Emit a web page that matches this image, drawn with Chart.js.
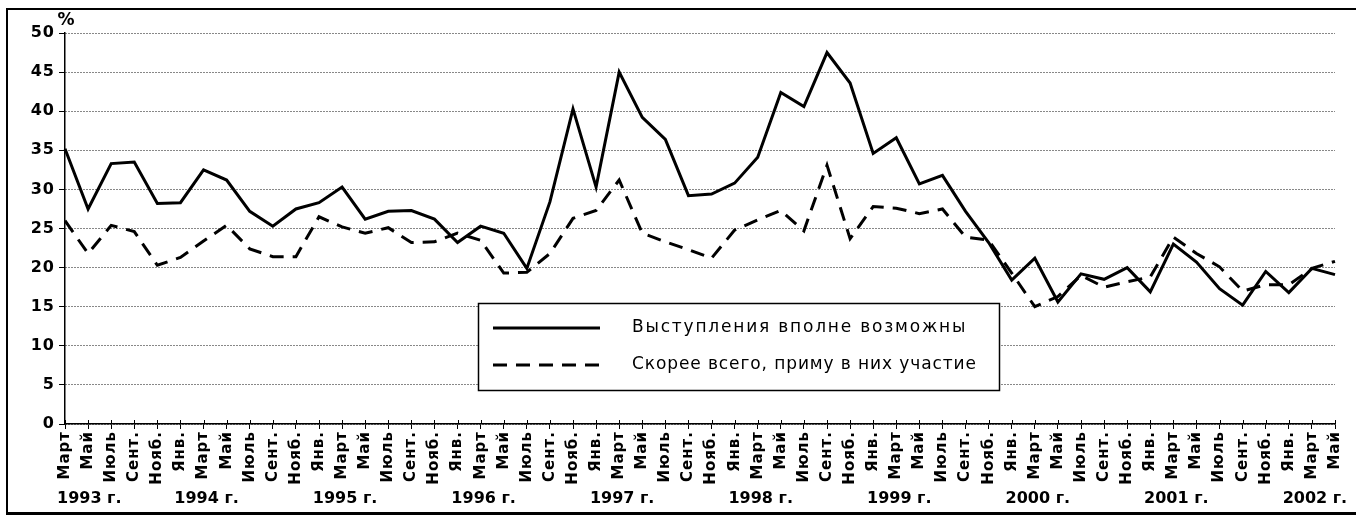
<!DOCTYPE html>
<html lang="ru">
<head>
<meta charset="utf-8">
<title>Выступления протеста</title>
<script src="https://cdn.jsdelivr.net/npm/chart.js@4.4.1/dist/chart.umd.min.js"></script>
<style>
  html, body { margin: 0; padding: 0; background: #fff; overflow: hidden; }
  #wrap { position: relative; width: 1356px; height: 516px; }
  #frame { position: absolute; left: 6px; top: 8px; width: 1360px; height: 502px;
           border-left: 2px solid #000; border-top: 2px solid #000; border-bottom: 3px solid #000; }
  canvas { position: absolute; left: 0; top: 0; }
</style>
</head>
<body>
<div id="wrap">
  <div id="frame"></div>
  <canvas id="chart" width="1356" height="516"></canvas>
</div>
<script>
// Month tick labels (every second month, March 1993 - May 2002)
const months = [
  "Март", "Май", "Июль", "Сент.", "Нояб.",
  "Янв.", "Март", "Май", "Июль", "Сент.", "Нояб.",
  "Янв.", "Март", "Май", "Июль", "Сент.", "Нояб.",
  "Янв.", "Март", "Май", "Июль", "Сент.", "Нояб.",
  "Янв.", "Март", "Май", "Июль", "Сент.", "Нояб.",
  "Янв.", "Март", "Май", "Июль", "Сент.", "Нояб.",
  "Янв.", "Март", "Май", "Июль", "Сент.", "Нояб.",
  "Янв.", "Март", "Май", "Июль", "Сент.", "Нояб.",
  "Янв.", "Март", "Май", "Июль", "Сент.", "Нояб.",
  "Янв.", "Март", "Май"
];
const years = ["1993 г.", "1994 г.", "1995 г.", "1996 г.", "1997 г.", "1998 г.", "1999 г.", "2000 г.", "2001 г.", "2002 г."];

// Series (%)
const possible = [
  35.2, 27.5, 33.3, 33.5, 28.2, 28.3, 32.5, 31.2, 27.2, 25.3,
  27.5, 28.3, 30.3, 26.2, 27.2, 27.3, 26.2, 23.2, 25.3, 24.4,
  19.9, 28.4, 40.3, 30.3, 45.0, 39.2, 36.4, 29.2, 29.4, 30.8,
  34.1, 42.4, 40.6, 47.5, 43.6, 34.6, 36.6, 30.7, 31.8, 27.2,
  23.2, 18.4, 21.2, 15.6, 19.2, 18.5, 20.0, 16.9, 23.0, 20.7,
  17.3, 15.2, 19.5, 16.8, 19.9, 19.1
];
const willTakePart = [
  26.0, 21.8, 25.4, 24.6, 20.3, 21.3, 23.4, 25.4, 22.4, 21.4,
  21.4, 26.5, 25.2, 24.4, 25.1, 23.2, 23.3, 24.4, 23.5, 19.3,
  19.4, 21.8, 26.3, 27.3, 31.2, 24.4, 23.3, 22.3, 21.2, 24.8,
  26.1, 27.3, 24.7, 33.1, 23.7, 27.8, 27.6, 26.9, 27.5, 23.9,
  23.5, 19.3, 15.0, 16.3, 19.0, 17.5, 18.2, 18.8, 23.9, 21.8,
  20.1, 17.0, 17.8, 17.8, 19.9, 20.8
];
const seriesNames = ["Выступления вполне возможны", "Скорее всего, приму в них участие"];

const FONT = "DejaVu Sans";

// Year labels, legend box, "%" and upper tick marks
const extras = {
  id: "extras",
  beforeDraw(chart) {
    // the original lettering is a bit wider than DejaVu
    chart.ctx.letterSpacing = "1px";
  },
  afterDraw(chart) {
    const { ctx, scales: { x, y } } = chart;
    ctx.save();
    ctx.letterSpacing = "0px";

    // small tick marks above the x axis
    ctx.strokeStyle = "#000";
    ctx.lineWidth = 1;
    months.forEach((m, i) => {
      const px = Math.round(x.getPixelForValue(i)) + 0.5;
      ctx.beginPath();
      ctx.moveTo(px, y.bottom - 4);
      ctx.lineTo(px, y.bottom);
      ctx.stroke();
    });

    // year labels under each March
    ctx.fillStyle = "#000";
    ctx.font = "bold 16px '" + FONT + "'";
    ctx.textAlign = "center";
    ctx.textBaseline = "middle";
    let k = 0;
    months.forEach((m, i) => {
      if (m === "Март" && k < years.length) {
        const w = ctx.measureText(years[k]).width;
        const cx = Math.max(x.getPixelForValue(i) + 3, x.left - 8 + w / 2);
        ctx.fillText(years[k], cx, 499);
        k++;
      }
    });

    // unit
    ctx.font = "bold 17px '" + FONT + "'";
    ctx.fillText("%", x.left + 1, 21);

    // legend
    const bx = 478, by = 303, bw = 521, bh = 87;
    ctx.fillStyle = "#fff";
    ctx.fillRect(bx, by, bw, bh);
    ctx.strokeStyle = "#000";
    ctx.lineWidth = 1.5;
    ctx.strokeRect(bx + 0.5, by + 0.5, bw, bh);

    chart.data.datasets.forEach((ds, i) => {
      const ly = by + 25 + i * 37;
      ctx.save();
      ctx.strokeStyle = ds.borderColor;
      ctx.lineWidth = ds.borderWidth;
      ctx.setLineDash(ds.borderDash || []);
      ctx.beginPath();
      ctx.moveTo(493, ly);
      ctx.lineTo(600, ly);
      ctx.stroke();
      ctx.restore();

      ctx.fillStyle = "#000";
      ctx.font = "17px '" + FONT + "'";
      ctx.textAlign = "left";
      ctx.textBaseline = "middle";
      ctx.letterSpacing = i === 0 ? "1.8px" : "0.9px";
      ctx.fillText(ds.label, 632, ly);
      ctx.letterSpacing = "0px";
    });

    ctx.restore();
  }
};

new Chart(document.getElementById("chart"), {
  type: "line",
  data: {
    labels: months,
    datasets: [
      { label: seriesNames[0], data: possible, borderColor: "#000", borderWidth: 3, pointRadius: 0, tension: 0 },
      { label: seriesNames[1], data: willTakePart, borderColor: "#000", borderWidth: 3, borderDash: [14, 9], pointRadius: 0, tension: 0 }
    ]
  },
  options: {
    responsive: false,
    animation: false,
    layout: { padding: { left: 0, right: 21, top: 33, bottom: 0 } },
    plugins: { legend: { display: false }, tooltip: { enabled: false } },
    scales: {
      x: {
        offset: false,
        grid: { display: true, drawOnChartArea: false, drawTicks: true, tickLength: 5, color: "#000" },
        border: { display: true, color: "#000", width: 1.5 },
        ticks: {
          autoSkip: false, maxRotation: 90, minRotation: 90, padding: 2,
          color: "#000", font: { family: FONT, weight: "bold", size: 15 }
        },
        afterFit(scale) { scale.height = 92; }
      },
      y: {
        min: 0, max: 50,
        grid: { color: "#111", lineWidth: 1, tickLength: 6, tickColor: "#000", tickBorderDash: [] },
        border: { display: true, color: "#000", width: 1.5, dash: [1, 2] },
        ticks: {
          stepSize: 5, padding: 4, color: "#000",
          font: { family: FONT, weight: "bold", size: 16 }
        },
        afterFit(scale) { scale.width = 65; }
      }
    }
  },
  plugins: [extras]
});
</script>
</body>
</html>
